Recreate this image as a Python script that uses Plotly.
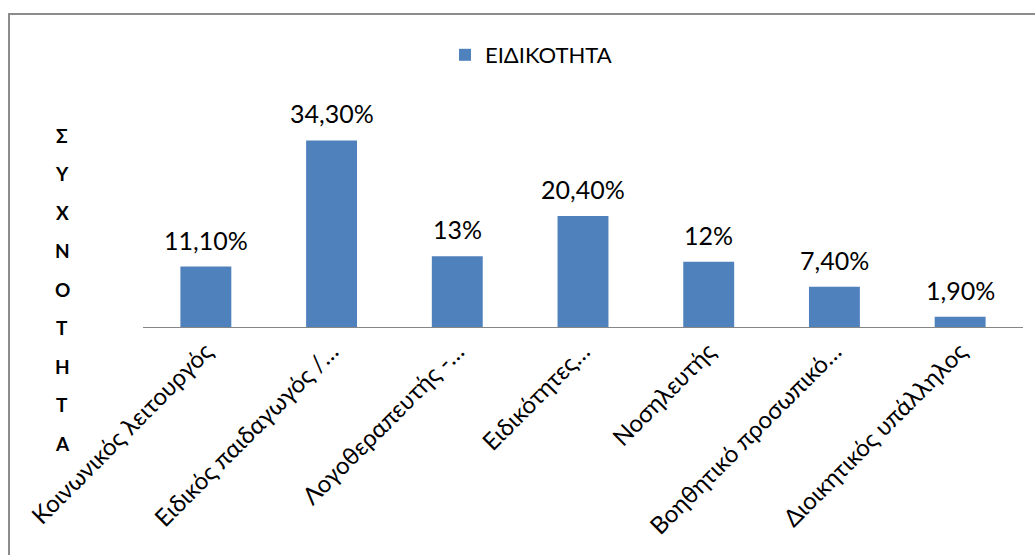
import plotly.graph_objects as go

# Occupational specialty distribution
categories = [
    "Κοινωνικός λειτουργός",
    "Ειδικός παιδαγωγός /…",
    "Λογοθεραπευτής -…",
    "Ειδικότητες…",
    "Νοσηλευτής",
    "Βοηθητικό προσωπικό…",
    "Διοικητικός υπάλληλος",
]
values = [11.1, 34.3, 13, 20.4, 12, 7.4, 1.9]
series_name = "ΕΙΔΙΚΟΤΗΤΑ"
axis_title = "ΣΥΧΝΟΤΗΤΑ"


def pct_label(v):
    if float(v).is_integer():
        return f"{int(v)}%"
    return f"{v:.2f}%".replace(".", ",")


FONT = "Lato, 'Open Sans', sans-serif"
BAR_COLOR = "#4f81bd"

W, H = 1035, 555
ML, MR, MT, MB = 143, 12, 95, 228
PW, PH = W - ML - MR, H - MT - MB


def px_to_paper_x(px):
    return (px - ML) / PW


def px_to_paper_y(py):
    return (H - MB - py) / PH


fig = go.Figure()
fig.add_trace(go.Bar(
    x=categories,
    y=values,
    name=series_name,
    marker=dict(color=BAR_COLOR, line=dict(width=0)),
    showlegend=True,
))

# value labels above bars
annotations = []
for c, v in zip(categories, values):
    annotations.append(dict(
        x=c, y=v, xref="x", yref="y",
        text=pct_label(v), showarrow=False,
        yanchor="middle", yshift=27,
        font=dict(family=FONT, size=25, color="#000000"),
    ))

# vertical axis title, one letter per line
letter_top, letter_step = 135, 38.5
for i, ch in enumerate(axis_title):
    annotations.append(dict(
        x=px_to_paper_x(62), y=px_to_paper_y(letter_top + i * letter_step),
        xref="paper", yref="paper",
        text=f"<b>{ch}</b>", showarrow=False,
        xanchor="center", yanchor="middle",
        font=dict(family=FONT, size=19, color="#000000"),
    ))

fig.update_layout(
    width=W, height=H,
    margin=dict(l=ML, r=MR, t=MT, b=MB, pad=0),
    paper_bgcolor="white",
    plot_bgcolor="white",
    bargap=0.595,
    font=dict(family=FONT, color="#000000"),
    legend=dict(
        orientation="h",
        x=px_to_paper_x(445), y=px_to_paper_y(55),
        xanchor="left", yanchor="middle",
        font=dict(family=FONT, size=22, color="#000000"),
        bgcolor="rgba(0,0,0,0)",
    ),
    xaxis=dict(
        showline=True, linecolor="#868686", linewidth=1,
        showgrid=False, ticks="", tickangle=-45,
        tickfont=dict(family=FONT, size=24, color="#000000"),
        fixedrange=True,
    ),
    yaxis=dict(
        range=[0, PH / 5.44],
        showline=False, showgrid=False, zeroline=False,
        showticklabels=False, ticks="",
        fixedrange=True,
    ),
    annotations=annotations,
    shapes=[dict(
        type="rect", xref="paper", yref="paper",
        x0=px_to_paper_x(9), x1=px_to_paper_x(1045),
        y0=px_to_paper_y(565), y1=px_to_paper_y(14),
        line=dict(color="#8c8c8c", width=2),
        fillcolor="rgba(0,0,0,0)", layer="below",
    )],
)

fig.write_html("out.html")
